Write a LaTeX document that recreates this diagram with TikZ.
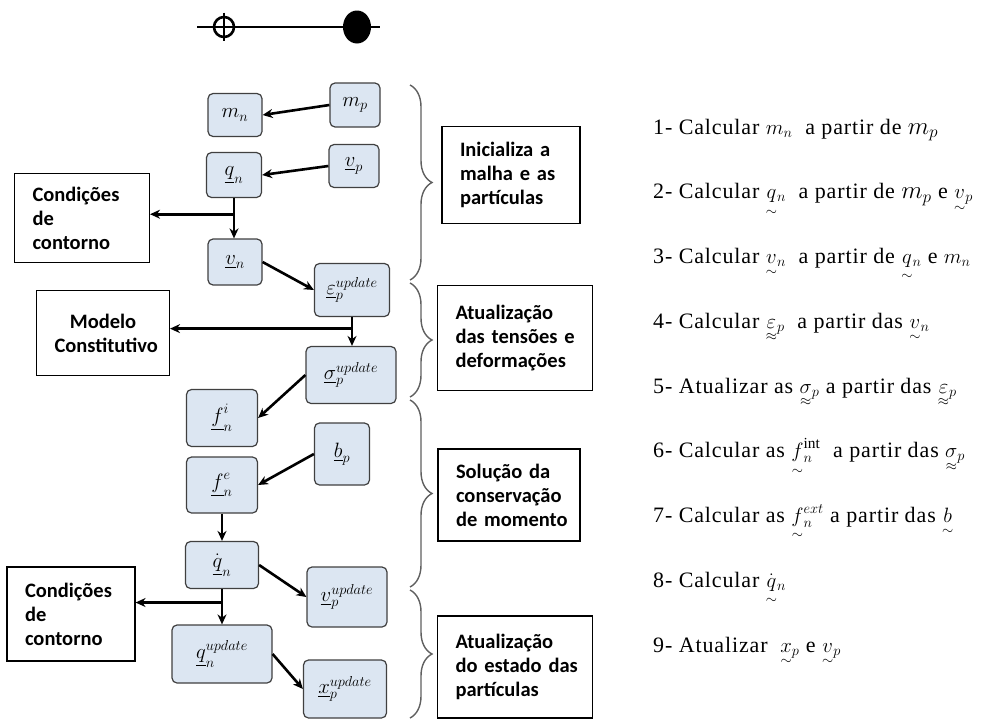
\documentclass[tikz,border=0pt]{standalone}
\usepackage{amsmath}
\usepackage{fontspec}
\setmainfont{Liberation Serif}
\newfontfamily\carlito{Carlito}
\newfontfamily\stepfont[LetterSpace=4]{Liberation Serif}
\usetikzlibrary{arrows.meta,calc,decorations.pathreplacing,shapes.geometric}

\definecolor{varfill}{RGB}{220,230,242}
\definecolor{varline}{RGB}{64,64,64}
\definecolor{brcline}{RGB}{96,96,96}

\newcommand{\vtil}[1]{{\smash[b]{\underset{\sim}{#1}}}}
\newcommand{\ttil}[1]{{\smash[b]{\underset{\approx}{#1}}}}
\newcommand{\largem}[1]{{\fontsize{27}{27}\selectfont$m_#1$}}

\begin{document}
\begin{tikzpicture}[x=1pt, y=-1pt,
  var/.style  ={draw=varline, line width=1.2pt, rounded corners=5pt, fill=varfill,
                inner sep=0pt, font=\fontsize{20}{22}\selectfont},
  note/.style ={draw, line width=1.1pt, inner xsep=18pt, inner ysep=0pt, align=left,
                font=\carlito\bfseries\fontsize{20.5}{24}\selectfont},
  flow/.style ={-{Stealth[length=10pt, width=9pt]}, line width=2.6pt},
  brc/.style  ={brcline, line width=1.4pt, decorate,
                decoration={brace, amplitude=22pt, aspect=0.5}},
  stepline/.style={anchor=base west, inner xsep=0pt, font=\stepfont\fontsize{22}{24}\selectfont},
]
\useasboundingbox (0,0) rectangle (985,720);

% ============================ grid node / particle ==========================
\coordinate (axl) at (197,27);
\coordinate (axr) at (380,27);
\draw[line width=1.8pt] (axl) -- (axr);
\node[circle, draw, line width=2.6pt, minimum size=20pt, inner sep=0pt] (opn) at (224,27) {};
\draw[line width=1.6pt] ($(opn.north)+(0,-3)$) -- ($(opn.south)+(0,3)$);
\node[ellipse, fill, minimum width=28pt, minimum height=33pt, inner sep=0pt] (cls) at (357,27) {};

% ============================ variables =====================================
\node[var, minimum width=54pt, minimum height=43pt] (mn)   at (235,115) {$m_n$};
\node[var, minimum width=50pt, minimum height=44pt] (mp)   at (355,105) {$m_p$};
\node[var, minimum width=55pt, minimum height=45pt] (qn)   at (234,175) {$\underline{q}_n$};
\node[var, minimum width=50pt, minimum height=43pt] (vp)   at (354,166) {$\underline{v}_p$};
\node[var, minimum width=54pt, minimum height=46pt] (vn)   at (235,262) {$\underline{v}_n$};
\node[var, minimum width=75pt, minimum height=53pt] (eps)  at (352,290) {$\underline{\varepsilon}_p^{update}$};
\node[var, minimum width=90pt, minimum height=57pt] (sig)  at (351,375) {$\underline{\sigma}_p^{update}$};
\node[var, minimum width=71pt, minimum height=57pt] (fi)   at (222,418) {$\underline{f}_n^{i}$};
\node[var, minimum width=55pt, minimum height=62pt] (bp)   at (342,454) {$\underline{b}_p$};
\node[var, minimum width=71pt, minimum height=56pt] (fe)   at (222,485) {$\underline{f}_n^{e}$};
\node[var, minimum width=73pt, minimum height=47pt] (qdot) at (222,565) {$\dot{\underline{q}}_n$};
\node[var, minimum width=80pt, minimum height=60pt] (vpu)  at (347,597) {$\underline{v}_p^{update}$};
\node[var, minimum width=100pt, minimum height=58pt] (qnu) at (222,654) {$\underline{q}_n^{update}$};
\node[var, minimum width=83pt, minimum height=58pt] (xpu)  at (345,689) {$\underline{x}_p^{update}$};

% side boxes
\node[note, text width=99pt, minimum height=89pt] (cnd1) at (82,218)  {Condições\\de\\contorno};
\node[note, text width=97pt, minimum height=85pt, align=center] (mdl) at (103,333) {Modelo\\\mbox{Constitutivo}};
\node[note, text width=92pt, minimum height=94pt] (cnd2) at (71,614)  {Condições\\de\\contorno};

% flow
\draw[flow] (mp.west) -- (mn.east);
\draw[flow] (vp.west) -- (qn.east);
\draw[flow] (qn.south) -- (qn.south |- vn.north);
\coordinate (br1) at ($(qn.south)!0.4!(qn.south |- vn.north)$);
\draw[flow] (br1) -- (br1 -| cnd1.east);
\draw[flow] (vn.east) -- (eps.west);
\draw[flow] (eps.south) -- (eps.south |- sig.north);
\coordinate (br2) at ($(eps.south)!0.4!(eps.south |- sig.north)$);
\draw[flow] (br2) -- (br2 -| mdl.east);
\draw[flow] (sig.west) -- (fi.east);
\draw[flow] (bp.west) -- (fe.east);
\draw[flow] (fe.south) -- (qdot.north);
\draw[flow] (qdot.east) -- (vpu.west);
\draw[flow] (qdot.south) -- (qdot.south |- qnu.north);
\coordinate (br3) at ($(qdot.south)!0.38!(qdot.south |- qnu.north)$);
\draw[flow] (br3) -- (br3 -| cnd2.east);
\draw[flow] (qnu.east) -- (xpu.west);

% ============================ stages ========================================
\draw[brc] (410,85)  -- (410,280);
\draw[brc] (410,283) -- (410,397);
\draw[brc] (410,400) -- (410,587);
\draw[brc] (410,590) -- (410,718);

\node[note, text width=102pt, minimum height=97pt]  (ini)  at (511,175) {\mbox{Inicializa a}\\\mbox{malha e as}\\partículas};
\node[note, text width=119pt, minimum height=105pt] (atu1) at (515,338) {Atualização\\\mbox{das tensões e}\\deformações};
\node[note, text width=106pt, minimum height=92pt]  (sol)  at (509,495) {\mbox{Solução da}\\conservação\\\mbox{de momento}};
\node[note, text width=119pt, minimum height=102pt] (atu2) at (515,667) {Atualização\\\mbox{do estado das}\\partículas};

% ============================ steps =========================================
\foreach \k/\txt in {
  1/{1- Calcular $m_n$ \ a partir de \largem{p}},
  2/{2- Calcular $\vtil{q}_n$ \ a partir de \largem{p} e $\vtil{v}_p$},
  3/{3- Calcular $\vtil{v}_n$ \ a partir de $\vtil{q}_n$ e $m_n$},
  4/{4- Calcular $\ttil{\varepsilon}_p$ \ a partir das $\vtil{v}_n$},
  5/{5- Atualizar as $\ttil{\sigma}_p$ a partir das $\ttil{\varepsilon}_p$},
  6/{6- Calcular as $\vtil{f}_n^{\mathrm{int}}$ \ a partir das $\ttil{\sigma}_p$},
  7/{7- Calcular as $\vtil{f}_n^{ext}$ a partir das $\vtil{b}$},
  8/{8- Calcular $\dot{\vtil{q}}_n$},
  9/{9- Atualizar \ $\vtil{x}_p$ e $\vtil{v}_p$}} {
  \node[stepline] (ln\k) at (653,{134+64.75*(\k-1)}) {\txt};
}

\end{tikzpicture}
\end{document}
